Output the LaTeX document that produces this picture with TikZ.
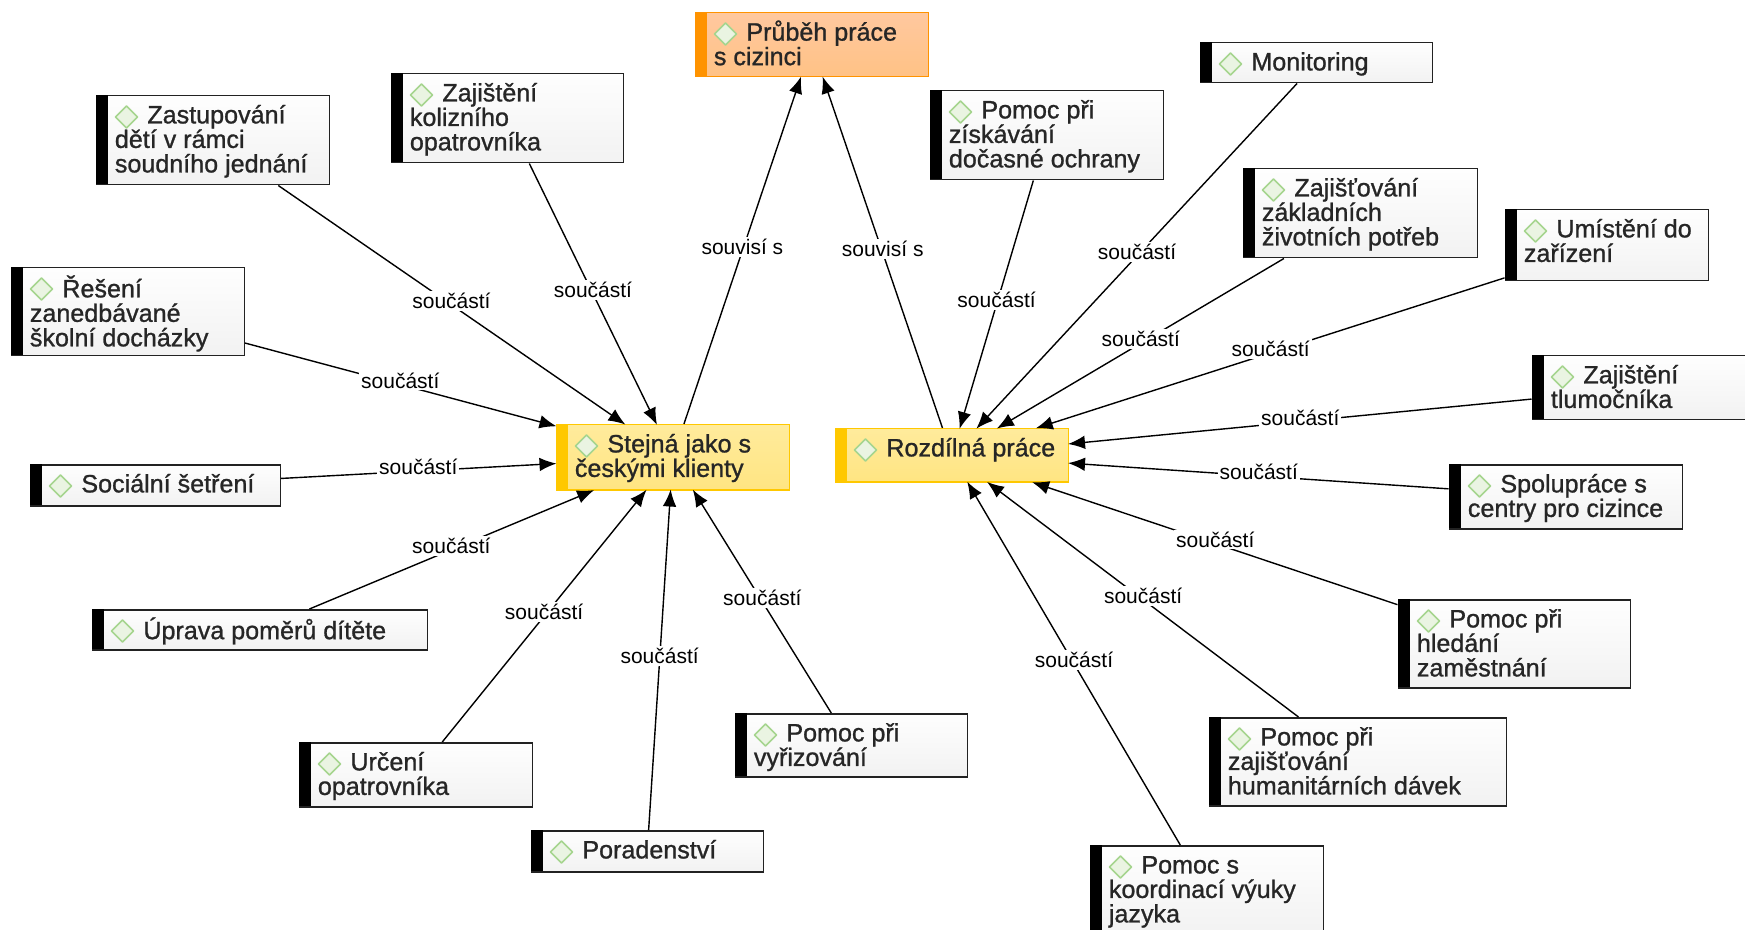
\documentclass[tikz,border=0pt]{standalone}
\usepackage{fontspec}
\setmainfont{Liberation Sans}
\newfontfamily\boxfont[FakeBold=1.0]{Liberation Sans}
\usetikzlibrary{arrows.meta}
\definecolor{inktext}{HTML}{262626}
\definecolor{plainedge}{HTML}{222222}
\definecolor{plaintop}{HTML}{FEFEFE}
\definecolor{plainbot}{HTML}{F2F2F2}
\definecolor{orgedge}{HTML}{FF9300}
\definecolor{orgtop}{HTML}{FFC89F}
\definecolor{orgbot}{HTML}{FFC285}
\definecolor{yeledge}{HTML}{FFC800}
\definecolor{yeltop}{HTML}{FFEB9C}
\definecolor{yelbot}{HTML}{FFE582}
\definecolor{diaedge}{HTML}{A6D58F}
\definecolor{diafill}{HTML}{EAF4E2}
\tikzset{
  x=0.5pt,y=-0.5pt,
  plainbox/.style={draw=plainedge,top color=plaintop,bottom color=plainbot,line width=0.75pt},
  orgbox/.style={draw=orgedge,top color=orgtop,bottom color=orgbot,line width=0.75pt},
  yelbox/.style={draw=yeledge,top color=yeltop,bottom color=yelbot,line width=0.75pt},
  boxtext/.style={anchor=north west,inner sep=0pt,align=left,text=inktext,font=\boxfont\fontsize{12.55}{12.25}\selectfont},
  dia/.style={draw=diaedge,fill=diafill,line width=0.85pt,line join=round},
  rel/.style={-{Latex[length=8.5pt,width=6.8pt]},line width=0.7pt,black,shorten >=-0.5pt},
  lab/.style={fill=white,inner sep=1pt,text=black,font=\fontsize{10.5}{11}\selectfont,yshift=2pt},
}
% #1 name, #2 style, #3 strip colour, #4 left, #5 top, #6 right, #7 bottom, #8 text
\newcommand{\cmapbox}[8]{%
  \node[#2,anchor=north west,inner sep=0pt,minimum width={(#6-#4)*0.5pt},minimum height={(#7-#5)*0.5pt}] (#1) at ({#4-0.5},#5) {};
  \fill[#3] ({#4-0.5},#5) rectangle ({#4+12},#7);
  \draw[dia] ({#4+30.5},{#5+11}) -- ({#4+41.5},{#5+22}) -- ({#4+30.5},{#5+33}) -- ({#4+19.5},{#5+22}) -- cycle;
  \node[boxtext] (#1-t) at ({#4+18.5},{#5+8}) {\rule{0pt}{10pt}\hspace*{16.25pt}#8};
}
\newcommand{\partof}[2]{\draw[rel] (#1) -- node[lab] (#1-l) {součástí} (#2);}
\begin{document}
\begin{tikzpicture}
\useasboundingbox (0,0) rectangle (1745,930);
\clip (0,0) rectangle (1745,930);
\cmapbox{pr}{orgbox}{orgedge}{695}{12}{928}{76}{Průběh práce\\s cizinci}
\cmapbox{st}{yelbox}{yeledge}{556}{424}{789}{489}{Stejná jako s\\českými klienty}
\cmapbox{ro}{yelbox}{yeledge}{835}{428}{1068}{481}{Rozdílná práce}
\cmapbox{za}{plainbox}{black}{96}{95}{329}{184}{Zastupování\\dětí v rámci\\soudního jednání}
\cmapbox{re}{plainbox}{black}{11}{267}{244}{355}{Řešení\\zanedbávané\\školní docházky}
\cmapbox{ko}{plainbox}{black}{391}{73}{623}{162}{Zajištění\\kolizního\\opatrovníka}
\cmapbox{so}{plainbox}{black}{30}{464}{280}{505}{Sociální šetření}
\cmapbox{up}{plainbox}{black}{92}{609}{427}{649}{Úprava poměrů dítěte}
\cmapbox{ur}{plainbox}{black}{299}{742}{532}{806}{Určení\\opatrovníka}
\cmapbox{po}{plainbox}{black}{531}{830}{763}{871}{Poradenství}
\cmapbox{vy}{plainbox}{black}{735}{713}{967}{776}{Pomoc při\\vyřizování}
\cmapbox{zi}{plainbox}{black}{930}{90}{1163}{179}{Pomoc při\\získávání\\dočasné ochrany}
\cmapbox{mo}{plainbox}{black}{1200}{42}{1432}{82}{Monitoring}
\cmapbox{zp}{plainbox}{black}{1243}{168}{1477}{257}{Zajišťování\\základních\\životních potřeb}
\cmapbox{um}{plainbox}{black}{1505}{209}{1708}{280}{Umístění do\\zařízení}
\cmapbox{tl}{plainbox}{black}{1532}{355}{1765}{419}{Zajištění\\tlumočníka}
\cmapbox{ce}{plainbox}{black}{1449}{464}{1682}{528}{Spolupráce s\\centry pro cizince}
\cmapbox{he}{plainbox}{black}{1398}{599}{1630}{687}{Pomoc při\\hledání\\zaměstnání}
\cmapbox{da}{plainbox}{black}{1209}{717}{1506}{805}{Pomoc při\\zajišťování\\humanitárních dávek}
\cmapbox{ja}{plainbox}{black}{1090}{845}{1323}{934}{Pomoc s\\koordinací výuky\\jazyka}
\draw[rel] (st) -- node[lab] (st-l) {souvisí s} (pr);
\draw[rel] (ro) -- node[lab] (ro-l) {souvisí s} (pr);
\partof{za}{st}
\partof{re}{st}
\partof{ko}{st}
\partof{so}{st}
\partof{up}{st}
\partof{ur}{st}
\partof{po}{st}
\partof{vy}{st}
\partof{zi}{ro}
\partof{mo}{ro}
\partof{zp}{ro}
\partof{um}{ro}
\partof{tl}{ro}
\partof{ce}{ro}
\partof{he}{ro}
\partof{da}{ro}
\partof{ja}{ro}
\end{tikzpicture}
\end{document}
